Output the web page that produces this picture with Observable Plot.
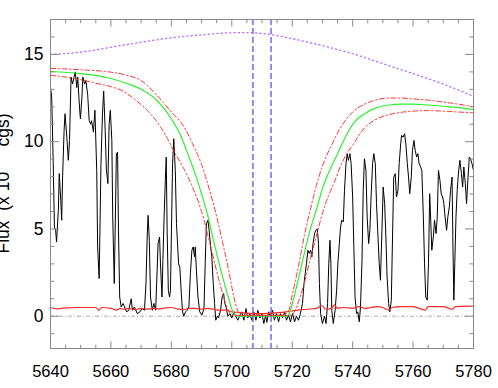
<!DOCTYPE html>
<html>
<head>
<meta charset="utf-8">
<script src="https://cdn.jsdelivr.net/npm/d3@7"></script>
<script src="https://cdn.jsdelivr.net/npm/@observablehq/plot@0.6"></script>
<style>
  html, body { margin: 0; padding: 0; background: white; }
  #chart { width: 498px; height: 388px; overflow: hidden; }
</style>
</head>
<body>
<div id="chart"></div>
<script>
// Observed spectrum (wavelength, flux in 1e-15 cgs)
const specWave = [5640.0,5640.4,5640.9,5641.3,5641.7,5642.0,5642.6,5642.9,5643.4,5643.7,5644.0,5644.5,5644.8,5645.4,5645.9,5646.3,5646.8,5647.3,5647.8,5648.2,5648.7,5649.0,5649.6,5649.9,5650.4,5650.7,5651.3,5651.7,5652.3,5652.8,5653.3,5653.6,5654.2,5654.7,5655.3,5655.6,5656.1,5656.4,5656.7,5657.2,5657.6,5658.1,5658.5,5659.0,5659.4,5659.8,5660.3,5660.6,5661.1,5661.4,5661.8,5662.2,5662.5,5662.9,5663.4,
5664.05,5664.5,5665.2,5665.9,5666.7,5667.1,5667.8,5668.7,5669.6,5670.3,5671.1,5671.6,5672.0,5672.3,5672.7,5673.1,5673.7,5674.2,5674.8,5675.3,5675.6,5676.1,5676.4,5676.9,5677.2,5677.6,5678.0,5678.3,5678.6,5679.0,5679.4,5679.7,5680.1,5680.4,5680.8,5681.3,5681.7,5682.4,5682.8,5683.3,5683.7,5684.1,5684.7,5685.2,5685.8,5686.3,5686.8,5687.2,5687.7,
5687.9,5688.3,5688.8,5689.4,5690.1,5690.8,5691.2,5691.6,5692.1,5692.5,5693.0,5693.4,5693.8,5694.3,5694.7,5695.2,5695.6,5696.3,5696.8,5697.3,5697.7,5698.1,5698.7,5699.4,5700.0,5700.7,5701.3,5702.0,5702.7,5703.3,5704.0,5704.7,5705.3,5706.0,5706.6,5707.3,5708.0,5708.6,5709.3,5710.0,5710.6,
5711.2,5711.6,5712.2,5712.8,5713.5,5714.1,5714.8,5715.5,5716.1,5716.8,5717.5,5718.1,5718.8,5719.4,5720.1,5720.8,5721.4,5722.1,5722.7,5723.4,5723.9,5724.3,5724.7,5725.2,5725.6,5726.1,5726.5,5726.9,5727.4,5727.8,5728.3,5728.7,5729.0,5729.4,5730.0,5730.7,5731.2,5731.7,5732.1,5732.5,5732.8,5733.1,5733.6,5734.2,
5734.7,5735.1,5735.6,5736.0,5736.4,5736.9,5737.3,5737.8,5738.2,5738.6,5739.1,5739.5,5740.0,5740.4,5740.8,5741.3,5741.7,5742.2,5742.6,5743.1,5743.5,5743.9,5744.4,5744.8,5745.3,5745.7,5746.1,5746.6,5747.0,5747.5,5747.9,5748.3,5748.8,5749.2,5749.7,5750.1,5750.6,5751.0,5751.4,5751.9,5752.3,5752.8,5753.2,5753.6,5754.1,5754.5,5755.0,5755.4,5755.9,5756.2,5756.7,5757.2,
5757.6,5758.1,5758.5,5758.9,5759.4,5759.8,5760.3,5760.7,5761.2,5761.6,5762.0,5762.5,5762.9,5763.4,5763.8,5764.2,5764.7,5765.1,5765.5,5765.8,5766.2,5766.7,5767.1,5767.6,5768.0,5768.4,5768.9,5769.3,5769.8,5770.2,5770.6,5771.1,5771.5,5772.0,5772.4,5772.9,5773.2,5773.5,5773.8,5774.2,5774.6,5775.1,5775.5,5776.0,5776.4,5776.8,5777.3,5777.7,5778.2,5778.6,5779.0,5779.5,5780.0];
const specFlux = [13.1,12.55,8.74,5.11,4.92,4.25,6.07,8.17,6.64,5.5,7.97,10.65,11.6,10.26,8.93,10.07,13.7,13.3,13.7,14.0,13.1,13.7,11.98,11.3,12.55,13.7,13.3,13.5,12.7,11.2,11.0,11.2,10.55,11.8,8.36,3.97,2.16,5.3,8.74,11.6,12.9,10.65,8.36,7.6,11.0,11.8,10.07,5.68,1.87,4.92,9.31,9.4,4.92,1.1,0.53,
0.73,0.53,0.25,0.34,1.0,0.34,0.53,0.15,0.25,0.44,0.34,1.87,4.54,5.78,4.35,1.1,0.34,0.73,0.34,2.63,4.16,4.54,3.0,1.1,3.2,5.68,7.78,9.12,4.92,1.49,1.1,1.49,5.68,8.74,10.17,8.36,5.3,3.0,2.8,1.3,0.25,0.0,0.25,0.34,0.53,2.44,3.78,3.97,3.4,
3.97,2.63,1.1,0.25,0.06,0.44,3.0,5.3,5.5,4.92,3.97,3.4,2.06,0.73,-0.23,0.0,-0.1,0.34,1.1,1.3,0.73,0.53,0.0,0.15,-0.1,0.25,0.0,-0.23,0.06,0.25,-0.23,0.44,-0.1,0.15,-0.23,0.25,-0.23,0.34,-0.1,0.15,-0.42,
0.06,-0.35,0.25,0.0,0.34,-0.23,0.15,-0.32,0.15,-0.1,0.25,-0.23,0.06,-0.32,0.15,-0.32,0.0,-0.23,0.15,0.73,1.87,2.44,3.0,3.78,3.6,3.78,3.4,4.16,4.73,4.92,5.0,4.16,1.87,0.15,-0.42,0.0,-0.42,0.73,3.0,4.35,3.0,0.34,-0.42,0.34,
1.49,3.0,4.16,5.11,5.5,5.4,7.21,8.74,9.31,8.93,9.31,8.74,6.83,3.97,1.1,0.15,0.25,-0.32,0.53,3.2,7.21,9.02,8.36,5.68,4.16,4.92,6.83,8.74,9.31,8.74,6.45,4.92,3.0,2.06,4.92,7.4,6.45,4.54,2.25,0.73,0.25,0.92,4.54,7.97,8.17,6.83,7.21,8.74,9.88,10.36,10.26,10.45,
9.88,8.74,7.97,7.02,7.97,9.5,10.07,9.5,9.12,9.31,8.74,8.55,8.36,5.68,3.0,1.1,0.92,3.0,7.02,5.68,3.78,4.54,5.5,4.73,5.68,8.36,7.78,7.02,6.83,6.45,5.68,4.92,5.68,6.26,7.21,7.97,3.97,0.92,3.0,5.68,7.21,8.36,8.93,8.17,7.4,8.55,7.59,6.45,7.97,9.12,9.02,8.74,8.36];

// Error / noise level (red solid)
const noiseWave = [5640,5642,5645,5650,5655,5656,5657,5660,5662,5663,5664,5666,5668,5670,5672,5674,5676,5678,5680,5682,5684,5686,5688,5690,5692,5694,5696,5698,5700,5702,5705,5710,5715,5718,5720,5722,5725,5728,5730,5731,5733,5734,5735,5737,5740,5742,5744,5746,5748,5750,5752,5753,5756,5760,5764,5765,5770,5773,5774,5780];
const noiseFlux = [0.5,0.42,0.48,0.5,0.5,0.35,0.5,0.45,0.35,0.45,0.4,0.45,0.38,0.45,0.4,0.45,0.42,0.48,0.5,0.42,0.38,0.45,0.45,0.4,0.45,0.4,0.35,0.35,0.25,0.22,0.18,0.15,0.2,0.25,0.3,0.35,0.4,0.45,0.6,0.4,0.45,0.65,0.45,0.5,0.45,0.55,0.45,0.5,0.55,0.5,0.35,0.5,0.55,0.55,0.35,0.55,0.55,0.4,0.55,0.58];

// Model profile (green) and its bounds (red dash-dot)
const modelWave = [5640,5650,5655,5660,5665,5670,5675,5680,5683,5685,5688,5690,5692,5694,5696,5698,5699,5700,5701,5702,5718,5719,5720,5722,5724,5726,5728,5730,5732,5735,5738,5741,5744,5748,5752,5756,5760,5765,5770,5775,5780];
const modelFlux = [14.02,13.9,13.8,13.62,13.35,13.0,12.4,11.3,10.4,9.5,8.1,7.0,5.8,4.3,2.9,1.6,1.0,0.4,0.1,0.0,0.0,0.15,0.7,2.1,3.6,5.0,6.1,7.3,8.2,9.3,10.4,11.2,11.6,11.95,12.1,12.15,12.15,12.1,12.03,11.95,11.83];

const upperWave = [5640,5650,5660,5665,5670,5675,5680,5684,5687,5690,5693,5695,5697,5699,5700.7,5702,5703,5717,5718,5719,5720,5722,5724,5726,5728,5730,5733,5736,5740,5744,5748,5752,5756,5760,5765,5770,5775,5780];
const upperFlux = [14.2,14.12,13.98,13.82,13.5,12.7,11.7,10.9,9.9,8.7,7.0,5.7,4.2,2.6,1.1,0.3,0.05,0.05,0.15,0.4,1.2,2.8,4.6,6.1,7.5,8.6,9.8,10.8,11.7,12.15,12.4,12.5,12.5,12.45,12.38,12.27,12.15,12.0];

const lowerWave = [5640,5645,5650,5655,5660,5664,5668,5672,5675,5678,5681,5684,5687,5690,5693,5696,5698,5699,5700,5719,5720,5721,5722,5724,5726,5728,5730,5732,5734,5736,5738,5740,5744,5748,5752,5756,5760,5765,5770,5775,5780];
const lowerFlux = [13.8,13.7,13.55,13.35,13.15,12.9,12.4,11.8,11.2,10.4,9.4,8.5,7.4,6.0,4.0,1.9,0.7,0.3,0.05,0.05,0.1,0.35,0.8,1.9,3.3,4.6,5.9,6.9,7.7,8.6,9.3,9.8,10.8,11.3,11.55,11.68,11.75,11.78,11.75,11.7,11.65];

// Continuum (purple dotted)
const contWave = [5640,5650,5660,5670,5680,5690,5700,5705,5710,5720,5730,5740,5750,5760,5770,5780];
const contFlux = [15.0,15.13,15.41,15.7,15.95,16.12,16.24,16.25,16.2,15.9,15.5,15.04,14.47,13.9,13.3,12.6];

// Marked wavelengths (blue dashed)
const markWave = [5707, 5713];

// Axis ticks
const xMajor = [5640,5660,5680,5700,5720,5740,5760,5780];
const xMinor = d3.range(5640, 5781, 5).filter(v => v % 20 !== 0);
const yMajor = [0,5,10,15];
const yMinor = d3.range(-1, 18, 1).filter(v => v % 5 !== 0);

const axisGray = "#8a8a8a";
const font = "'Liberation Sans', Arial, Helvetica, sans-serif";

const plot = Plot.plot({
  width: 498,
  height: 388,
  marginLeft: 50,
  marginRight: 25,
  marginTop: 19,
  marginBottom: 40,
  x: {domain: [5640, 5780], label: null},
  y: {domain: [-1.85, 17], label: null},
  style: {fontFamily: font, background: "white", color: "black"},
  marks: [
    Plot.ruleY([0], {stroke: "#aaaaaa", strokeDasharray: "4,2,1,2", strokeWidth: 1}),
    Plot.line(specFlux, {x: specWave, y: specFlux, stroke: "black", strokeWidth: 1, clip: true}),
    Plot.line(noiseFlux, {x: noiseWave, y: noiseFlux, stroke: "#ff2a2a", strokeWidth: 1.2, curve: "monotone-x", clip: true}),
    Plot.line(modelFlux, {x: modelWave, y: modelFlux, stroke: "#33ee33", strokeWidth: 1.2, curve: "monotone-x", clip: true}),
    Plot.line(upperFlux, {x: upperWave, y: upperFlux, stroke: "#ff3333", strokeWidth: 1, strokeDasharray: "5,2.5,1.5,2.5", curve: "monotone-x", clip: true}),
    Plot.line(lowerFlux, {x: lowerWave, y: lowerFlux, stroke: "#ff3333", strokeWidth: 1, strokeDasharray: "5,2.5,1.5,2.5", curve: "monotone-x", clip: true}),
    Plot.line(contFlux, {x: contWave, y: contFlux, stroke: "#b870ff", strokeWidth: 1.3, strokeDasharray: "1.3,3", curve: "monotone-x", clip: true}),
    Plot.ruleX(markWave, {stroke: "#6a6aff", strokeWidth: 1.5, strokeDasharray: "6,3"}),
    Plot.frame({stroke: axisGray}),
    // tick labels
    Plot.axisX(xMajor, {anchor: "bottom", tickSize: 0, tickPadding: 17, fontSize: 16.5, label: null, tickFormat: d => String(d)}),
    Plot.axisY(yMajor, {anchor: "left", tickSize: 0, tickPadding: 7, fontSize: 17.5, label: null}),
    // inward ticks
    Plot.axisX(xMajor, {anchor: "bottom", tickSize: -6.6, fill: "none", stroke: axisGray, label: null}),
    Plot.axisX(xMinor, {anchor: "bottom", tickSize: -3.3, fill: "none", stroke: axisGray, label: null}),
    Plot.axisX(xMajor, {anchor: "top", tickSize: -6.6, fill: "none", stroke: axisGray, label: null}),
    Plot.axisX(xMinor, {anchor: "top", tickSize: -3.3, fill: "none", stroke: axisGray, label: null}),
    Plot.axisY(yMajor, {anchor: "left", tickSize: -9, fill: "none", stroke: axisGray, label: null}),
    Plot.axisY(yMinor, {anchor: "left", tickSize: -4.5, fill: "none", stroke: axisGray, label: null}),
    Plot.axisY(yMajor, {anchor: "right", tickSize: -9, fill: "none", stroke: axisGray, label: null}),
    Plot.axisY(yMinor, {anchor: "right", tickSize: -4.5, fill: "none", stroke: axisGray, label: null})
  ]
});

document.getElementById("chart").appendChild(plot);

// Y-axis title with superscript exponent (partly outside the window, as in the reference)
const svg = d3.select(plot);
const t = svg.append("text")
  .attr("transform", "translate(9,183.5) rotate(-90)")
  .attr("text-anchor", "middle")
  .attr("font-family", font)
  .attr("font-size", 17.5)
  .attr("fill", "black");
t.append("tspan").text("Flux  (x 10");
t.append("tspan").attr("dy", -12).attr("font-size", 12).text("−15");
t.append("tspan").attr("dy", 12).text(" cgs)");
</script>
</body>
</html>
